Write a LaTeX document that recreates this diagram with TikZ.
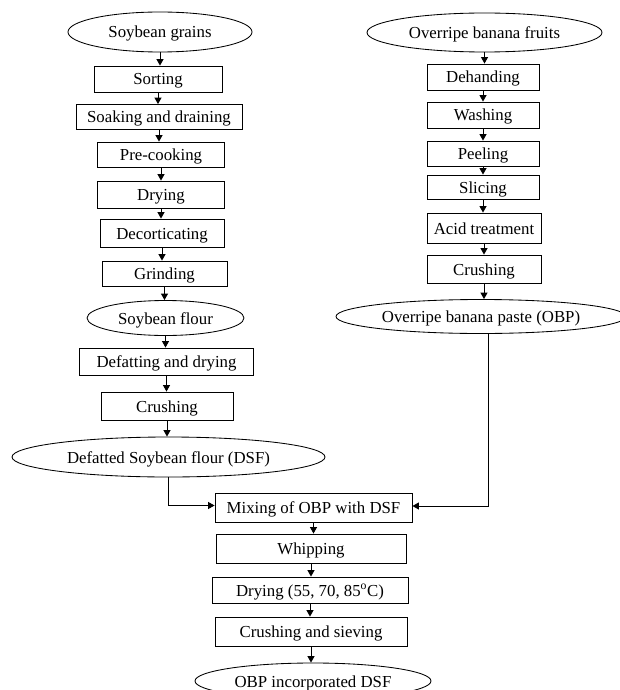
\documentclass[tikz,border=0pt]{standalone}
\usepackage{fontspec}
\setmainfont{Liberation Serif}
\usetikzlibrary{arrows.meta,shapes.geometric}
\tikzset{
  base/.style={draw=black, line width=0.85pt, inner sep=0pt, font=\fontsize{16.8}{19}\selectfont, text height=12.5pt, text depth=0.5pt, align=center},
  stepbox/.style={base, rectangle},
  termo/.style={base, ellipse},
  arr/.style={draw=black, line width=1pt, -{Triangle[length=6.5pt,width=7pt]}},
}
\begin{document}
\begin{tikzpicture}[x=1pt,y=-1pt]
\fill[white] (0,0) rectangle (620,690);
\useasboundingbox (0,0) rectangle (620,690);

% left column
\node[termo, minimum width=184pt, minimum height=40pt] (sg) at (160,32) {Soybean grains};
\node[stepbox, minimum width=128pt, minimum height=26pt] (sort) at (158,79) {Sorting};
\node[stepbox, minimum width=166pt, minimum height=25pt] (soak) at (159,117) {Soaking and draining};
\node[stepbox, minimum width=127pt, minimum height=25pt] (prec) at (161,154.5) {Pre-cooking};
\node[stepbox, minimum width=127pt, minimum height=27pt] (dry1) at (161,194.5) {Drying};
\node[stepbox, minimum width=124pt, minimum height=28pt] (deco) at (162,233) {Decorticating};
\node[stepbox, minimum width=125pt, minimum height=25pt] (grin) at (164.5,273.5) {Grinding};
\node[termo, minimum width=157pt, minimum height=35pt] (sf) at (165.5,318) {Soybean flour};
\node[stepbox, minimum width=174pt, minimum height=27pt] (defa) at (166.5,361.5) {Defatting and drying};
\node[stepbox, minimum width=132pt, minimum height=28pt] (cru1) at (167,406) {Crushing};
\node[termo, minimum width=313pt, minimum height=40pt] (dsf) at (168.5,457) {Defatted Soybean flour (DSF)};

% right column
\node[termo, minimum width=235pt, minimum height=39pt] (obf) at (484.5,32.5) {Overripe banana fruits};
\node[stepbox, minimum width=112pt, minimum height=26pt] (deh) at (483,77) {Dehanding};
\node[stepbox, minimum width=112pt, minimum height=26pt] (was) at (483,115) {Washing};
\node[stepbox, minimum width=112pt, minimum height=25pt] (pee) at (483,153.5) {Peeling};
\node[stepbox, minimum width=112pt, minimum height=24pt] (sli) at (483,187) {Slicing};
\node[stepbox, minimum width=114pt, minimum height=30pt] (aci) at (484,228) {Acid treatment};
\node[stepbox, minimum width=114pt, minimum height=28pt] (cru2) at (484,269) {Crushing};
\node[termo, minimum width=290pt, minimum height=34pt] (obp) at (481,316.5) {Overripe banana paste (OBP)};

% bottom column
\node[stepbox, minimum width=197pt, minimum height=29pt] (mix) at (313.5,507.5) {Mixing of OBP with DSF};
\node[stepbox, minimum width=190pt, minimum height=29pt] (whi) at (311,548.5) {Whipping};
\node[stepbox, minimum width=196pt, minimum height=26pt] (dry2) at (310,590) {Drying (55, 70, 85\textsuperscript{o}C)};
\node[stepbox, minimum width=192pt, minimum height=29pt] (crs) at (311,631.5) {Crushing and sieving};
\node[termo, minimum width=236pt, minimum height=36pt] (fin) at (313,681) {OBP incorporated DSF};

% left connectors
\foreach \a/\b in {sg/sort, sort/soak, soak/prec, prec/dry1, dry1/deco, deco/grin, grin/sf, sf/defa, defa/cru1, cru1/dsf}
  \draw[arr] (\a.south) -- (\a.south |- \b.north);
% right connectors
\foreach \a/\b in {obf/deh, deh/was, was/pee, pee/sli, sli/aci, aci/cru2, cru2/obp}
  \draw[arr] (\a.south) -- (\a.south |- \b.north);
% bottom connectors
\foreach \a/\b in {mix/whi, whi/dry2, dry2/crs, crs/fin}
  \draw[arr] (\a.south) -- (\a.south |- \b.north);

% merging connectors
\draw[arr] (dsf.south) |- ([yshift=2pt]mix.west);
\draw[arr] ([xshift=7pt]obp.south) |- ([yshift=1.5pt]mix.east);
\end{tikzpicture}
\end{document}
